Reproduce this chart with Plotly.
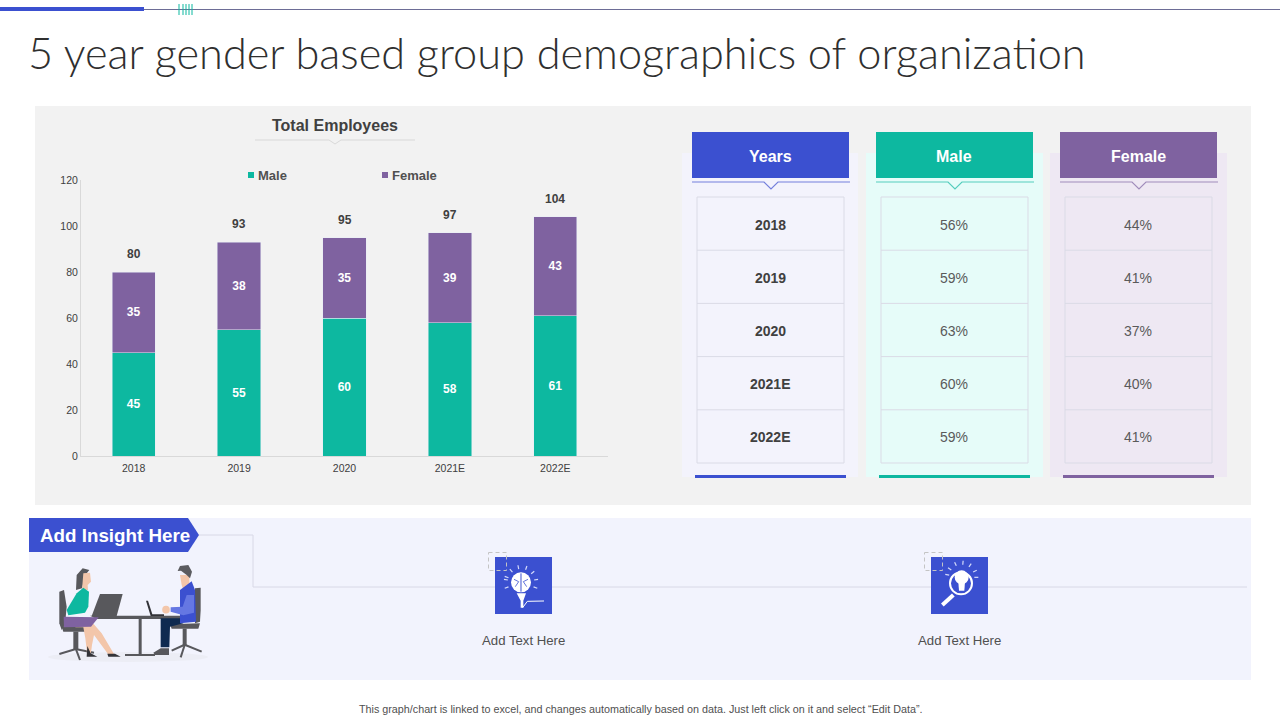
import math
import plotly.graph_objects as go

years = ["2018", "2019", "2020", "2021E", "2022E"]
male = [45, 55, 60, 58, 61]
female = [35, 38, 35, 39, 43]
totals = [80, 93, 95, 97, 104]
male_share = ["56%", "59%", "63%", "60%", "59%"]
female_share = ["44%", "41%", "37%", "40%", "41%"]
y_ticks = [0, 20, 40, 60, 80, 100, 120]

W, H = 1280, 720
BLUE = "#3B50D0"
TEAL = "#0DB8A0"
PURPLE = "#7F62A0"
DARK = "#404040"
GREY = "#58585C"
SKIN = "#F3C6AA"
FONT = "Liberation Sans"


def px(x):
    return x / W


def py(y):
    return 1 - y / H


fig = go.Figure()

fig.add_trace(go.Bar(x=years, y=male, name="Male", marker_color=TEAL, width=0.41,
                     text=male, textposition="inside", insidetextanchor="middle",
                     textfont=dict(color="white", size=12, family=FONT, weight="bold")))
fig.add_trace(go.Bar(x=years, y=female, name="Female", marker_color=PURPLE, width=0.41,
                     text=female, textposition="inside", insidetextanchor="middle",
                     textfont=dict(color="white", size=12, family=FONT, weight="bold")))

# totals sit well above the stacks; on a category axis annotations take the category index
for i, total in enumerate(totals):
    fig.add_annotation(x=i, y=total, text=str(total), showarrow=False, yshift=18, yanchor="middle",
                       font=dict(color=DARK, size=12, family=FONT, weight="bold"))


def rect(x0, y0, x1, y1, fill=None, line=None, lw=1, dash=None):
    fig.add_shape(type="rect", xref="paper", yref="paper", x0=px(x0), x1=px(x1), y0=py(y0), y1=py(y1),
                  fillcolor=fill if fill else "rgba(0,0,0,0)",
                  line=dict(color=line, width=lw, dash=dash) if line else dict(width=0), layer="below")


def seg(x0, y0, x1, y1, color, lw=1):
    fig.add_shape(type="line", xref="paper", yref="paper", x0=px(x0), x1=px(x1), y0=py(y0), y1=py(y1),
                  line=dict(color=color, width=lw), layer="below")


def poly(points, fill=None, line=None, lw=1, closed=True):
    d = "M" + " L".join(f"{px(a):.5f},{py(b):.5f}" for a, b in points)
    if closed:
        d += " Z"
    fig.add_shape(type="path", xref="paper", yref="paper", path=d,
                  fillcolor=fill if fill else "rgba(0,0,0,0)",
                  line=dict(color=line, width=lw) if line else dict(width=0), layer="below")


def circle(cx, cy, r, fill=None, line=None, lw=1):
    fig.add_shape(type="circle", xref="paper", yref="paper", x0=px(cx - r), x1=px(cx + r),
                  y0=py(cy - r), y1=py(cy + r), fillcolor=fill if fill else "rgba(0,0,0,0)",
                  line=dict(color=line, width=lw) if line else dict(width=0), layer="below")


def label(x, y, text, size=12, color=DARK, bold=False, family=FONT, anchor="center", weight=None):
    fig.add_annotation(xref="paper", yref="paper", x=px(x), y=py(y), text=text, showarrow=False,
                       xanchor=anchor, yanchor="middle", borderpad=0,
                       font=dict(size=size, color=color, family=family,
                                 weight=weight if weight else ("bold" if bold else "normal")))


# top strip and title
seg(144, 9.5, 1280, 9.5, "#6D6D96", 1)
rect(0, 7, 144, 11, fill=BLUE)
for tx in [179, 183, 186, 189, 192]:
    seg(tx, 4, tx, 15, TEAL, 1)
label(27, 52, "5 year gender based group demographics of organization", size=43.3, color="#2F2F2F",
      family="Lato", anchor="left", weight=300)

# main panels
rect(35, 106, 1251, 505, fill="#F2F2F2")
rect(29, 518, 1251, 680, fill="#F2F3FD")

# chart heading and key
label(335, 125, "Total Employees", size=16, bold=True)
poly([(255, 140), (329, 140), (335, 144), (341, 140), (415, 140)], line="#D9D9D9", closed=False)
rect(248, 172, 254, 178, fill=TEAL)
label(256.5, 175, "Male", size=13, bold=True, anchor="left", color="#505050")
rect(382, 172, 388, 178, fill=PURPLE)
label(390.5, 175, "Female", size=13, bold=True, anchor="left", color="#505050")

# table columns
columns = [
    ("Years", years, 682, 858, 692, "#F3F3FC", BLUE, "#7480DC"),
    ("Male", male_share, 866, 1043, 876, "#E6FCF9", TEAL, "#55CDBD"),
    ("Female", female_share, 1050, 1227, 1060, "#EEE8F3", PURPLE, "#A08CBB"),
]
for head, cells, bg0, bg1, hx, bg, col, rule in columns:
    rect(bg0, 153, bg1, 477, fill=bg)
    rect(hx, 132, hx + 157, 178, fill=col)
    label(hx + 78, 156, head, size=16, color="white", bold=True)
    poly([(hx, 182), (hx + 72, 182), (hx + 79, 189), (hx + 86, 182), (hx + 158, 182)], line=rule, lw=1.2, closed=False)
    rect(hx + 5, 197, hx + 152, 463, line="#DADBE6", lw=1)
    for i, cell in enumerate(cells):
        if i > 0:
            seg(hx + 5, 197 + 53.2 * i, hx + 152, 197 + 53.2 * i, "#DADBE6")
        label(hx + 78, 225 + 53 * i, cell, size=14, bold=head == "Years",
              color=DARK if head == "Years" else "#5A5A5A")
    rect(hx + 3, 475, hx + 154, 478, fill=col)

# insight strip
poly([(199, 535), (253, 535), (253, 587), (1247, 587)], line="#D8D8E6", lw=1, closed=False)
poly([(29, 518), (188, 518), (199, 535), (188, 552), (29, 552)], fill=BLUE)
label(39, 535, "Add Insight Here", size=18.8, color="white", bold=True, anchor="left")
rect(495, 557, 552, 614, fill=BLUE)
rect(931, 557, 988, 614, fill=BLUE)
rect(488.5, 552.5, 506.5, 570.5, line="#C4C4C4", dash="4px,3px")
rect(924.5, 552.5, 942.5, 570.5, line="#C4C4C4", dash="4px,3px")
label(523, 640, "Add Text Here", size=13.2, color="#505050")
label(959, 640, "Add Text Here", size=13.2, color="#505050")
label(640, 709, "This graph/chart is linked to excel, and changes automatically based on data. Just left click on it and select \u201cEdit Data\u201d.",
      size=10.75, color="#505050")


# people, coordinates measured on a 3x crop starting at (20, 510)
def z(points):
    return [(20 + a / 3, 510 + b / 3) for a, b in points]


fig.add_shape(type="circle", xref="paper", yref="paper", x0=px(48), x1=px(208), y0=py(652), y1=py(662),
              fillcolor="#ECEDF5", line=dict(width=0), layer="below")
# woman's chair
poly(z([(118, 245), (132, 240), (140, 290), (135, 345), (125, 360), (118, 340)]), fill=GREY)
poly(z([(125, 350), (215, 350), (212, 365), (130, 365)]), fill=GREY)
poly(z([(160, 365), (175, 365), (175, 420), (160, 420)]), fill=GREY)
for a, b in [((165, 418), (118, 432)), ((168, 418), (180, 450)), ((170, 418), (222, 428))]:
    poly(z([a, b]), line=GREY, lw=2, closed=False)
# man's chair
poly(z([(525, 235), (542, 233), (542, 300), (540, 335), (525, 340)]), fill=GREY)
poly(z([(450, 343), (540, 340), (535, 356), (455, 356)]), fill=GREY)
poly(z([(488, 356), (500, 356), (500, 408), (488, 408)]), fill=GREY)
for a, b in [((492, 405), (455, 422)), ((494, 405), (482, 442)), ((496, 405), (545, 425))]:
    poly(z([a, b]), line=GREY, lw=2, closed=False)
# table and laptops
poly(z([(210, 317), (480, 317), (480, 327), (230, 327)]), fill=GREY)
poly(z([(356, 327), (365, 327), (365, 433), (356, 433)]), fill=GREY)
poly(z([(315, 432), (405, 432), (405, 438), (315, 438)]), fill=GREY)
poly(z([(240, 252), (308, 252), (290, 318), (215, 318)]), fill=GREY)
poly(z([(378, 272), (384, 272), (397, 313), (432, 313), (432, 318), (392, 318)]), fill="#333338")
# woman
poly(z([(168, 240), (170, 195), (188, 175), (208, 180), (196, 195), (186, 235)]), fill=GREY)
poly(z([(190, 190), (210, 188), (213, 215), (203, 225), (204, 240), (186, 240)]), fill=SKIN)
poly(z([(165, 352), (215, 335), (245, 370), (282, 432), (264, 432), (222, 375), (216, 405), (212, 436), (202, 436), (196, 385), (190, 352)]), fill=SKIN)
poly(z([(140, 300), (170, 250), (190, 233), (207, 245), (205, 290), (195, 308), (145, 316)]), fill=TEAL)
poly(z([(131, 320), (236, 322), (213, 350), (132, 352)]), fill=PURPLE)
poly(z([(262, 431), (285, 431), (302, 440), (265, 440)]), fill="#333338")
poly(z([(202, 408), (212, 430), (232, 440), (200, 440)]), fill="#333338")
# man
poly(z([(480, 195), (508, 195), (508, 225), (490, 240), (485, 225)]), fill=SKIN)
poly(z([(473, 183), (480, 168), (505, 165), (516, 185), (510, 205), (500, 195), (483, 182)]), fill="#5C5C60")
poly(z([(422, 325), (480, 325), (490, 340), (450, 350), (448, 412), (422, 412)]), fill="#0F2A50")
poly(z([(480, 240), (515, 214), (525, 240), (528, 335), (480, 340)]), fill=BLUE)
poly(z([(452, 292), (488, 290), (500, 255), (522, 255), (522, 308), (490, 316), (452, 305)]), fill="#6577E2")
circle(20 + 438 / 3, 510 + 299 / 3, 3.8, fill=SKIN)
poly(z([(400, 428), (422, 415), (447, 415), (447, 435), (405, 435)]), fill=GREY)


# brain icon, 3x crop starting at (470, 540)
def bz(a, b):
    return (470 + a / 3, 540 + b / 3)


circle(*bz(153, 127), 10, fill="white")
poly([bz(140, 160), bz(168, 160), bz(160, 182), bz(160, 203), bz(152, 203), bz(152, 182)], fill="white")
poly([bz(158, 203), bz(172, 184), bz(222, 183)], line="white", lw=1, closed=False)
poly([bz(153, 100), bz(153, 155)], line=BLUE, lw=1, closed=False)
poly([bz(132, 118), bz(146, 125), bz(136, 140)], line=BLUE, lw=0.8, closed=False)
poly([bz(174, 118), bz(160, 125), bz(170, 140)], line=BLUE, lw=0.8, closed=False)
for ang in [-160, -130, -100, -70, -40, -10, 20, 160, 190]:
    c, s = math.cos(math.radians(ang)), math.sin(math.radians(ang))
    poly([bz(153 + 40 * c, 127 + 40 * s), bz(153 + 52 * c, 127 + 52 * s)], line="#D5DBFA", lw=1.2, closed=False)


# lens icon, 3x crop starting at (910, 540)
def lz(a, b):
    return (910 + a / 3, 540 + b / 3)


circle(*lz(153, 130), 11, line="white", lw=2)
circle(*lz(155, 112), 7, fill="white")
poly([lz(145, 125), lz(165, 125), lz(163, 152), lz(147, 152)], fill="white")
poly([lz(130, 165), lz(97, 195)], line="white", lw=4, closed=False)
for ang in [-170, -145, -115, -85, -55, -25, 0]:
    c, s = math.cos(math.radians(ang)), math.sin(math.radians(ang))
    poly([lz(155 + 38 * c, 112 + 38 * s), lz(155 + 50 * c, 112 + 50 * s)], line="#D5DBFA", lw=1.2, closed=False)

fig.update_xaxes(domain=[px(81), px(608)], type="category", categoryorder="array", categoryarray=years,
                 range=[-0.5, 4.5], showgrid=False, showline=True, linecolor="#D9D9D9", linewidth=1, ticks="",
                 automargin=False, ticklabelstandoff=2,
                 tickfont=dict(size=10.5, color=DARK, family=FONT), fixedrange=True)
fig.update_yaxes(domain=[py(456), py(180)], range=[0, 120], tickvals=y_ticks, showgrid=False, zeroline=False,
                 showline=True, linecolor="#D9D9D9", linewidth=1, ticks="", automargin=False,
                 tickfont=dict(size=10.5, color=DARK, family=FONT), fixedrange=True)
fig.update_layout(width=W, height=H, barmode="stack", showlegend=False, margin=dict(l=0, r=0, t=0, b=0),
                  paper_bgcolor="white", plot_bgcolor="rgba(0,0,0,0)", font=dict(family=FONT))

fig.write_html("out.html", config={"displayModeBar": False},
               post_script="document.body.style.margin='0';document.body.style.overflow='hidden';")
